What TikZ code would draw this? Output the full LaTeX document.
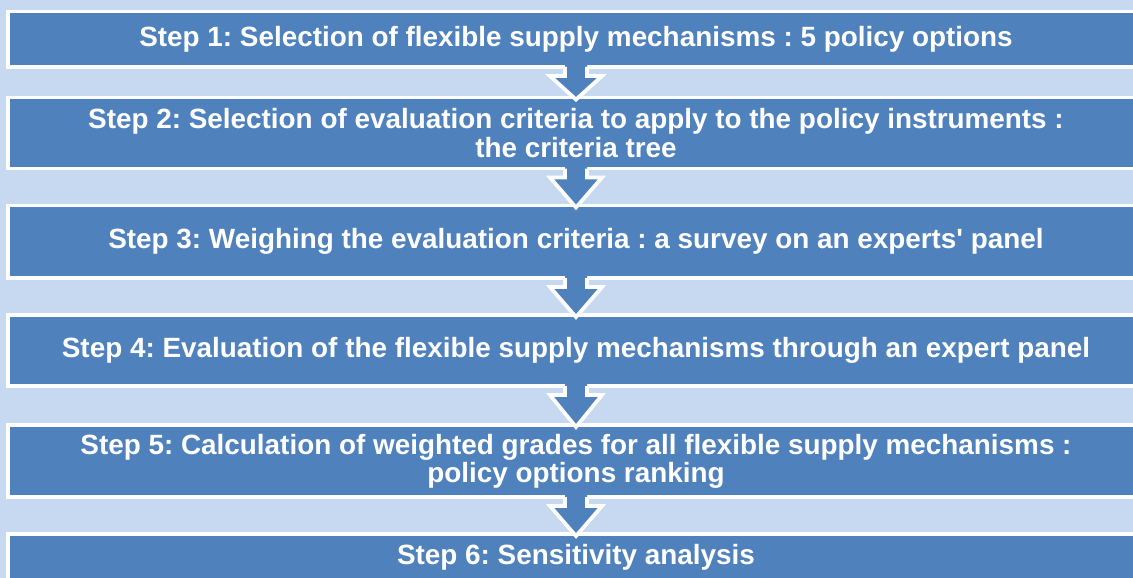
\documentclass[tikz,border=0pt]{standalone}
\usepackage{fontspec}
\setmainfont{Liberation Sans}
\usetikzlibrary{calc}
\definecolor{StepBlue}{RGB}{79,129,189}
\definecolor{PaleBand}{RGB}{198,217,240}
\frenchspacing

\begin{document}
\begin{tikzpicture}[x=0.75pt, y=-0.75pt,
    every node/.style={font=\fontsize{20.9}{21.2}\selectfont\bfseries, align=center, text=white},
    stepbox/.style={draw=white, line width=2.8pt, fill=StepBlue, minimum width=852pt,
                    inner sep=0pt, outer sep=0pt}]
  \useasboundingbox (0,0) rectangle (1133,578);
  \clip (0,0) rectangle (1133,578);
  \fill[PaleBand] (0,0) rectangle (1133,578);
  \node[stepbox, minimum height=41.6pt] (s1) at (576,39.25)
    {Step 1: Selection of flexible supply mechanisms : 5 policy options};
  \node[stepbox, minimum height=53.25pt] (s2) at (576,133)
    {Step 2: Selection of evaluation criteria to apply to the policy instruments :\\the criteria tree};
  \node[stepbox, minimum height=54.4pt] (s3) at (576,241.75)
    {Step 3: Weighing the evaluation criteria : a survey on an experts\textquotesingle{} panel};
  \node[stepbox, minimum height=53.25pt] (s4) at (576,350.5)
    {Step 4: Evaluation of the flexible supply mechanisms through an expert panel};
  \node[stepbox, minimum height=54pt] (s5) at (576,461)
    {Step 5: Calculation of weighted grades for all flexible supply mechanisms :\\policy options ranking};
  \node[stepbox, minimum height=34.5pt] (s6) at (576,557)
    {Step 6: Sensitivity analysis};
  % block arrows from one step down to the next
  \foreach \a/\b in {s1/s2, s2/s3, s3/s4, s4/s5, s5/s6} {
    \fill[StepBlue] ($(\a.south)+(-11,-3)$) -- ($(\a.south)+(-11,9)$) -- ($(\a.south)+(-26,9)$)
      -- ($(\b.north)+(0,2)$) -- ($(\a.south)+(26,9)$) -- ($(\a.south)+(11,9)$)
      -- ($(\a.south)+(11,-3)$) -- cycle;
    \draw[white, line width=2.8pt, line join=miter] ($(\a.south)+(-11,0)$) -- ($(\a.south)+(-11,9)$)
      -- ($(\a.south)+(-26,9)$) -- ($(\b.north)+(0,2)$) -- ($(\a.south)+(26,9)$)
      -- ($(\a.south)+(11,9)$) -- ($(\a.south)+(11,0)$);
  }
\end{tikzpicture}
\end{document}
